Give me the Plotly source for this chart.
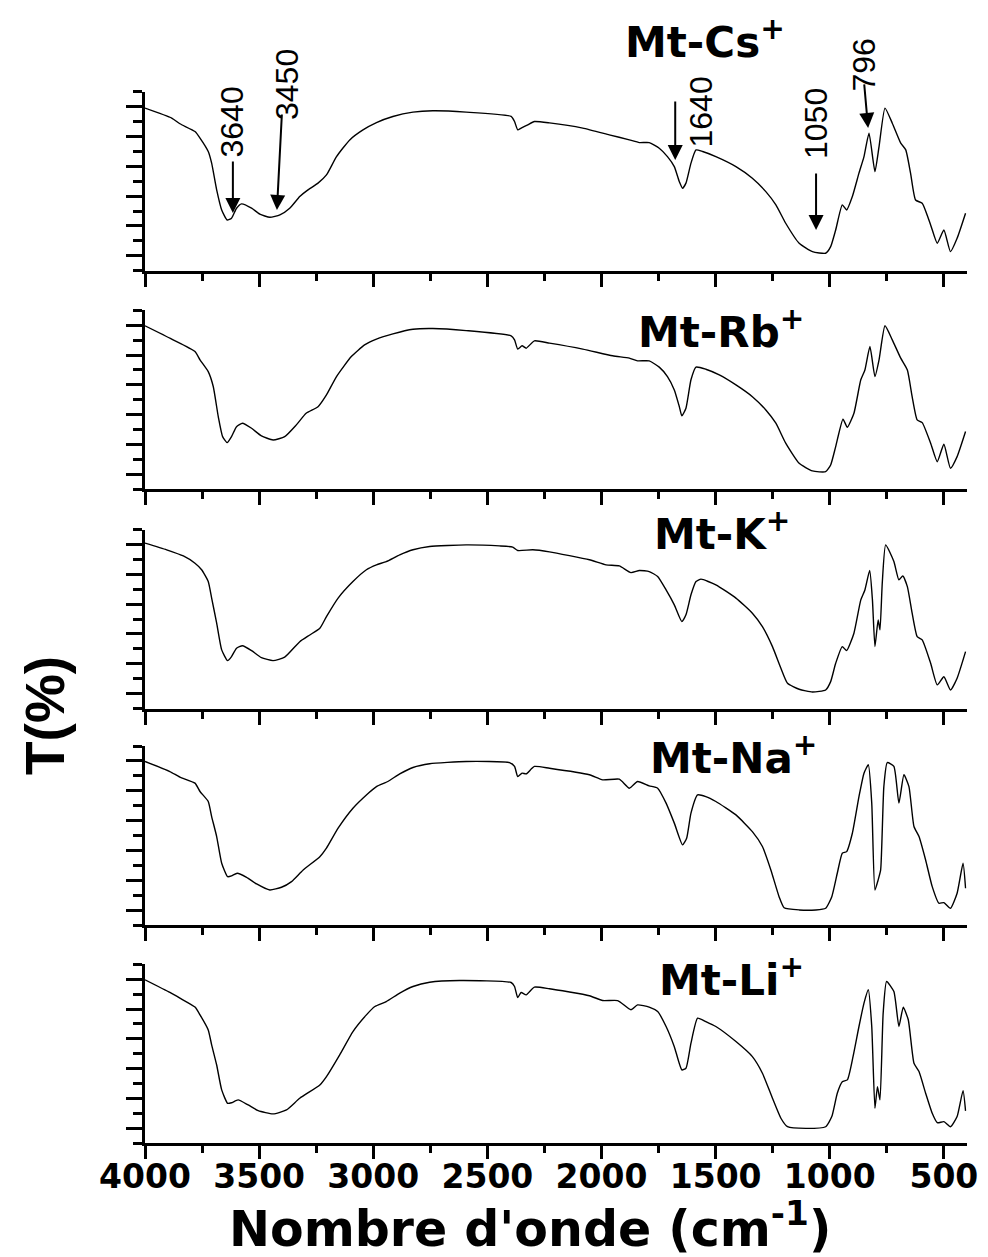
import plotly.graph_objects as go

W, H = 988, 1257

# ---------------- data (wavenumber cm-1, transmittance in arbitrary units 0-12) ----------------
wn_cs = [4000,3883,3847,3781,3759,3723,3708,3686,3664,3640,3621,3599,3577,3533,3497,3453,3409,3366,3322,3286,
         3242,3205,3161,3103,3045,2986,2914,2826,2739,2593,2396,2381,2367,2352,2323,2294,2228,2082,1966,1878,
         1834,1791,1747,1711,1681,1659,1645,1630,1608,1586,1557,1499,1411,1339,1280,1236,1193,1134,1076,1018,
         996,974,945,926,901,872,850,828,802,784,758,726,689,667,646,624,595,558,529,500,471,442,405]
t_cs = [10.9,10.23,9.85,9.33,8.89,7.99,7.21,5.42,4.07,3.40,3.52,4.19,4.48,4.19,3.79,3.58,3.74,4.19,4.97,5.42,
        5.87,6.42,7.65,8.77,9.44,9.93,10.34,10.63,10.72,10.63,10.34,10.0,9.44,9.56,9.78,10.0,9.91,9.56,9.11,8.77,
        8.59,8.59,8.21,7.65,6.98,5.97,5.53,5.87,7.21,8.1,7.99,7.65,6.98,6.2,5.3,4.41,3.18,1.84,1.28,1.17,
        1.61,2.73,4.41,4.07,4.97,6.54,7.65,9.22,6.64,8.32,10.9,9.89,8.55,8.1,6.54,4.74,4.52,3.07,1.84,2.73,1.28,2.17,3.85]

wn_rb = [4000,3883,3781,3759,3723,3701,3679,3660,3640,3621,3599,3573,3533,3490,3439,3388,3337,3294,3242,3205,
         3161,3096,3038,2986,2914,2826,2739,2593,2396,2381,2367,2348,2330,2294,2228,2082,1951,1878,1842,1791,
         1747,1711,1681,1659,1648,1630,1608,1586,1543,1484,1411,1339,1280,1236,1193,1134,1076,1018,996,974,
         942,923,894,864,846,824,802,784,758,726,689,660,639,617,595,558,529,500,471,442,405]
t_rb = [10.96,10.07,9.24,8.68,7.89,6.89,4.87,3.53,3.13,3.53,4.2,4.43,4.09,3.58,3.31,3.53,4.32,5.1,5.54,6.33,
        7.56,8.9,9.68,10.07,10.42,10.73,10.78,10.64,10.29,10.02,9.4,9.62,9.46,9.95,9.8,9.4,8.95,8.79,8.61,8.61,
        8.19,7.56,6.66,5.54,4.92,5.44,7.34,8.19,8.05,7.67,7.0,6.21,5.32,4.43,3.09,1.74,1.23,1.18,1.63,2.86,
        4.7,4.16,5.1,7.34,8.0,9.57,7.56,8.68,10.96,10.02,8.79,8.0,6.21,4.65,4.47,3.09,1.85,3.02,1.41,2.19,3.87]

wn_k = [4000,3905,3832,3781,3752,3723,3708,3686,3664,3638,3621,3599,3573,3533,3490,3439,3388,3322,3278,3234,
        3205,3154,3089,3030,2986,2943,2884,2826,2753,2593,2447,2389,2367,2301,2228,2053,1980,1922,1871,1834,
        1791,1754,1717,1681,1648,1630,1608,1586,1564,1499,1411,1339,1295,1251,1214,1185,1134,1076,1018,996,
        974,945,926,894,864,846,825,813,802,788,780,770,755,719,697,680,660,639,617,595,558,529,500,471,442,405]
t_k = [11.09,10.64,10.23,9.74,9.3,8.51,7.4,5.72,3.93,3.21,3.48,4.04,4.21,3.88,3.41,3.21,3.44,4.48,4.93,5.38,
       6.16,7.4,8.51,9.3,9.63,9.85,10.3,10.64,10.86,10.97,10.9,10.82,10.59,10.64,10.5,9.97,9.63,9.56,9.11,9.25,
       9.18,8.85,7.95,6.95,5.83,6.28,7.62,8.51,8.67,8.29,7.4,6.39,5.49,4.15,2.7,1.69,1.29,1.11,1.24,1.8,
       3.03,4.15,3.88,5.05,7.28,7.95,9.25,7.28,4.15,5.94,5.27,8.4,10.97,9.85,8.62,8.89,8.17,6.39,4.82,4.6,3.03,1.58,2.13,1.24,2.03,3.81]

wn_na = [4000,3891,3847,3781,3759,3723,3708,3686,3664,3638,3621,3596,3555,3511,3453,3402,3358,3307,3234,3205,
         3154,3089,3030,2986,2936,2884,2826,2753,2593,2403,2381,2367,2348,2330,2294,2228,2053,1995,1922,1878,
         1842,1791,1754,1717,1681,1645,1627,1608,1579,1543,1499,1411,1339,1295,1258,1222,1200,1134,1061,1018,
         991,967,945,926,901,872,850,831,816,802,788,777,763,748,719,697,675,653,631,609,580,551,522,500,471,442,416,405]
t_na = [10.96,10.29,9.91,9.51,8.95,8.28,7.27,5.93,4.14,3.24,3.29,3.47,3.2,2.75,2.35,2.53,2.91,3.69,4.58,5.15,
        6.49,7.83,8.72,9.28,9.62,10.13,10.56,10.81,10.96,10.89,10.63,9.95,10.18,10.13,10.63,10.51,10.07,9.73,9.78,9.17,
        9.62,9.33,9.17,8.17,6.83,5.37,5.82,7.5,8.72,8.61,8.28,7.38,6.26,5.26,3.69,1.9,1.16,1.01,1.01,1.12,
        1.9,3.47,4.81,4.92,6.15,8.61,10.18,10.74,8.17,2.35,3.02,3.69,9.28,10.89,10.63,8.17,10.07,9.28,6.6,5.93,4.36,2.57,1.46,1.5,1.12,2.13,4.14,2.46]

wn_li = [4000,3891,3847,3781,3759,3723,3708,3686,3664,3638,3621,3592,3548,3504,3439,3380,3322,3234,3205,3147,
         3089,3030,2993,2943,2884,2826,2753,2622,2396,2381,2367,2352,2330,2294,2228,2053,1995,1929,1871,1842,
         1791,1754,1717,1681,1648,1630,1608,1579,1543,1499,1411,1339,1295,1251,1214,1185,1105,1018,991,967,
         945,923,898,872,850,831,816,802,791,780,766,751,719,697,678,656,631,609,580,551,529,500,471,442,416,405]
t_li = [10.96,10.11,9.73,9.13,8.61,7.6,6.6,5.25,3.58,2.68,2.72,2.91,2.57,2.19,1.97,2.24,3.02,3.91,4.47,5.93,
        7.49,8.61,9.17,9.5,10.07,10.51,10.8,10.91,10.78,10.51,9.77,10.11,9.95,10.47,10.36,9.89,9.57,9.57,8.95,9.28,
        9.13,8.83,7.83,6.48,4.92,5.03,6.71,8.39,8.16,7.83,6.82,5.81,4.7,3.02,1.68,1.11,1.0,1.11,1.79,3.36,
        4.13,4.25,5.81,7.83,9.4,10.29,7.83,2.35,3.8,2.91,8.72,10.85,10.17,7.83,9.13,8.28,5.37,4.81,3.36,2.01,1.38,1.45,1.11,1.79,3.53,2.17]

sample_names = ["Mt-Cs<sup>+</sup>", "Mt-Rb<sup>+</sup>", "Mt-K<sup>+</sup>", "Mt-Na<sup>+</sup>", "Mt-Li<sup>+</sup>"]
series = [(wn_cs, t_cs), (wn_rb, t_rb), (wn_k, t_k), (wn_na, t_na), (wn_li, t_li)]

x_tick_vals = [4000, 3500, 3000, 2500, 2000, 1500, 1000, 500]
x_tick_text = ["4000", "3500", "3000", "2500", "2000", "1500", "1000", "500"]

# peak markers on the Mt-Cs+ spectrum: (label, wavenumber of arrow tip, T of arrow tip)
peak_labels = ["3640", "3450", "1640", "1050", "796"]
peak_wn = [3615, 3422, 1677, 1060, 832]
peak_t = [3.87, 4.07, 7.42, 2.73, 9.57]

# ---------------- layout geometry (pixels) ----------------
plot_left, plot_right = 145, 966.7
panel_bottoms = [270.7, 489.3, 708.5, 925.0, 1143.3]
panel_h = 179.0

def py(y):
    return 1 - y / H

def pxx(x):
    return x / W

fig = go.Figure()
BOLD = "DejaVu Sans"

for i, (wn, tt) in enumerate(series):
    assert len(wn) == len(tt)
    n = "" if i == 0 else str(i + 1)
    fig.add_trace(go.Scatter(x=wn, y=tt, mode="lines",
                             line=dict(color="black", width=1.4, shape="spline", smoothing=0.5),
                             xaxis="x" + n, yaxis="y" + n, showlegend=False, hoverinfo="skip"))
    yb = panel_bottoms[i]
    fig.layout["xaxis" + n] = dict(
        domain=[pxx(plot_left), pxx(plot_right)], anchor="y" + n, range=[4000, 400],
        showgrid=False, zeroline=False, showline=True, linecolor="black", linewidth=3,
        ticks="outside", ticklen=13, tickwidth=3, tickcolor="black",
        tickmode="array", tickvals=x_tick_vals, ticktext=x_tick_text,
        showticklabels=(i == 4), ticklabelstandoff=-11,
        tickfont=dict(family=BOLD, size=33, color="black", weight="bold"),
        minor=dict(ticks="outside", ticklen=7, tickwidth=3, tickcolor="black",
                   tickmode="linear", tick0=250, dtick=500, showgrid=False),
        automargin=False,
    )
    fig.layout["yaxis" + n] = dict(
        domain=[py(yb), py(yb - panel_h)], anchor="x" + n, range=[0, 12],
        showgrid=False, zeroline=False, showline=True, linecolor="black", linewidth=3,
        ticks="outside", ticklen=16, tickwidth=3, tickcolor="black",
        tickmode="linear", tick0=1, dtick=2, showticklabels=False,
        minor=dict(ticks="outside", ticklen=9, tickwidth=3, tickcolor="black",
                   tickmode="linear", tick0=0, dtick=2, showgrid=False),
        automargin=False,
    )

annotations = []
# sample labels
label_pos = [(623, 39.5), (636, 329), (652, 531.5), (648, 755.5), (657, 977.5)]
for name, (lx, ly) in zip(sample_names, label_pos):
    annotations.append(dict(text=name, x=pxx(lx), y=py(ly), xref="paper", yref="paper",
                            xanchor="left", yanchor="middle", showarrow=False,
                            font=dict(family=BOLD, size=42, color="black", weight="bold")))

# peak arrows (in data coordinates of the top panel)
arrow_tails = [(0, -53), (5, -97), (0, -60), (0, -58), (-4, -45)]
for w, t, (ax, ay) in zip(peak_wn, peak_t, arrow_tails):
    annotations.append(dict(text="", x=w, y=t, xref="x", yref="y", ax=ax, ay=ay,
                            showarrow=True, arrowhead=2, arrowsize=1.5, arrowwidth=2,
                            arrowcolor="black", standoff=0))
# peak labels (rotated)
peak_label_pos = [(232, 122.5), (287, 85), (700, 112.5), (816, 124), (863.5, 65)]
for lab, (lx, ly) in zip(peak_labels, peak_label_pos):
    annotations.append(dict(text=lab, x=pxx(lx), y=py(ly), xref="paper", yref="paper",
                            xanchor="center", yanchor="middle", textangle=-90, showarrow=False,
                            font=dict(family="Liberation Sans", size=32, color="black")))

# axis titles
annotations.append(dict(text="Nombre d'onde (cm<sup>-1</sup>)", x=pxx(530), y=py(1225),
                        xref="paper", yref="paper", xanchor="center", yanchor="middle", showarrow=False,
                        font=dict(family=BOLD, size=49, color="black", weight="bold")))
annotations.append(dict(text="T(%)", x=pxx(45), y=py(716), xref="paper", yref="paper",
                        xanchor="center", yanchor="middle", textangle=-90, showarrow=False,
                        font=dict(family="Liberation Sans", size=55, color="black", weight="bold")))

fig.update_layout(width=W, height=H, margin=dict(l=0, r=0, t=0, b=0),
                  paper_bgcolor="white", plot_bgcolor="white", annotations=annotations,
                  showlegend=False)

fig.write_html("out.html")
